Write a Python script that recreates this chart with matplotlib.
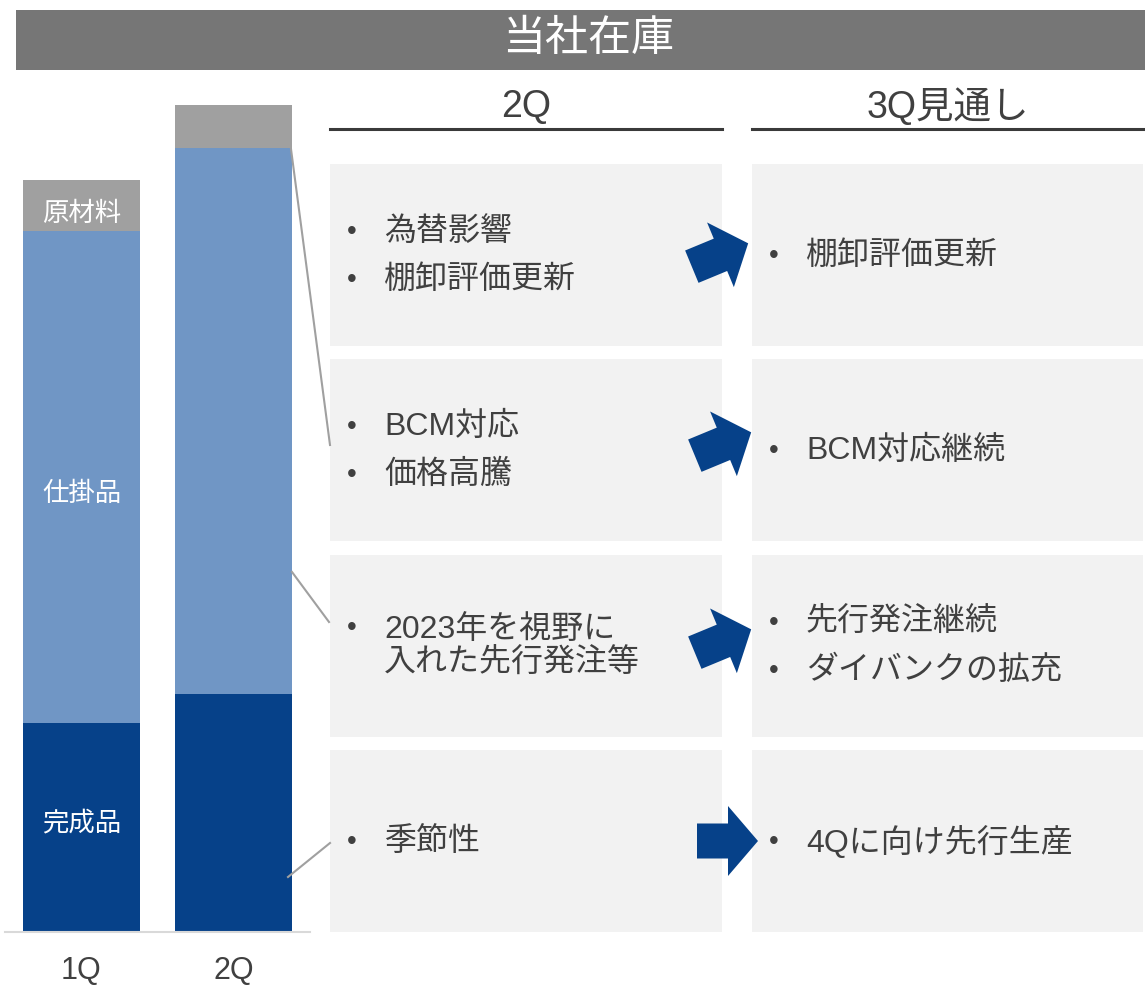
import numpy as np
import matplotlib.pyplot as plt
from matplotlib.patches import Rectangle, Polygon

plt.rcParams['font.family'] = ['Liberation Sans', 'Noto Sans CJK JP', 'DejaVu Sans']

# inventory composition (bar heights, arbitrary units)
quarters = ["1Q", "2Q"]
finished = [20.9, 23.8]   # 完成品
wip = [49.2, 54.6]        # 仕掛品
raw = [5.1, 4.3]          # 原材料
seg_labels = ["完成品", "仕掛品", "原材料"]

title = "当社在庫"
col_headers = ["2Q", "3Q見通し"]
left_items = [["為替影響", "棚卸評価更新"],
              ["BCM対応", "価格高騰"],
              ["2023年を視野に\n入れた先行発注等"],
              ["季節性"]]
right_items = [["棚卸評価更新"],
               ["BCM対応継続"],
               ["先行発注継続", "ダイバンクの拡充"],
               ["4Qに向け先行生産"]]
arrow_angles = [22.5, 22.5, 22.5, 0]

C_FIN = "#064189"
C_WIP = "#7096c5"
C_RAW = "#a0a0a0"
C_TXT = "#404040"
C_BOX = "#f2f2f2"

W, H = 1145, 985
fig = plt.figure(figsize=(W / 100, H / 100), dpi=100)

# --- stacked bars ---
ax = fig.add_axes([5 / W, (H - 932) / H, 305 / W, (932 - 80) / H])
x = np.arange(len(quarters))
bw = 0.77
ax.bar(x, finished, bw, color=C_FIN)
ax.bar(x, wip, bw, bottom=finished, color=C_WIP)
ax.bar(x, raw, bw, bottom=np.add(finished, wip), color=C_RAW)
ax.set_xlim(-0.503, 1.503)
ax.set_ylim(0, 85.2)
for s in ["top", "right", "left"]:
    ax.spines[s].set_visible(False)
ax.spines["bottom"].set_color("#d9d9d9")
ax.spines["bottom"].set_linewidth(1.5)
ax.set_yticks([])
ax.set_xticks(x)
ax.set_xticklabels(quarters, fontsize=22, color=C_TXT)
ax.tick_params(axis="x", length=0, pad=17)

# segment labels on the 1Q bar
ax.text(0, finished[0] - 10.0, seg_labels[0], ha="center", va="center", fontsize=19, color="white")
ax.text(0, finished[0] + wip[0] / 2 - 1.7, seg_labels[1], ha="center", va="center", fontsize=19, color="white")
ax.text(0, finished[0] + wip[0] + raw[0] / 2 - 0.8, seg_labels[2], ha="center", va="center", fontsize=19, color="white")

# --- overlay in pixel coordinates ---
lay = fig.add_axes([0, 0, 1, 1])
lay.set_xlim(0, W)
lay.set_ylim(H, 0)
lay.axis("off")
lay.patch.set_visible(False)

# title bar
lay.add_patch(Rectangle((16, 10), W - 16, 60, color="#767676", lw=0))
lay.text(588, 40, title, ha="center", va="center", fontsize=31, color="white")

col_x = [330, 752]
col_w = [392, 391]
for cx, cw, hd in zip(col_x, col_w, col_headers):
    lay.text(cx + cw / 2, 107, hd, ha="center", va="center", fontsize=27, color=C_TXT)
    lay.plot([cx, cx + cw], [129, 129], color="#3a3a3a", lw=2.2)

row_top = [164, 359, 555, 750]
row_h = 182
for i, top in enumerate(row_top):
    for cx, cw in zip(col_x, col_w):
        lay.add_patch(Rectangle((cx, top), cw, row_h, color=C_BOX, lw=0))
    yc = top + row_h / 2 + 1
    for cx, items in zip(col_x, [left_items[i], right_items[i]]):
        n = len(items)
        for k, item in enumerate(items):
            yy = yc + (k - (n - 1) / 2) * 48
            nl = item.count("\n") + 1
            y_first = yy - (nl - 1) * 18.5
            lay.text(cx + 17, y_first, "•", ha="left", va="center", fontsize=20, color=C_TXT)
            lay.text(cx + 54, yy, item, ha="left", va="center", fontsize=23, color=C_TXT,
                     linespacing=1.17)

    # block arrow between columns
    ang = np.deg2rad(arrow_angles[i])
    shape = np.array([[-30.5, -17.5], [0.5, -17.5], [0.5, -35], [30.5, 0],
                      [0.5, 35], [0.5, 17.5], [-30.5, 17.5]])
    rot = np.array([[np.cos(ang), np.sin(ang)], [-np.sin(ang), np.cos(ang)]])
    pts = shape @ rot.T
    centers = [(720, 255), (723, 444), (723, 641), (727.5, 841)]
    pts = pts + np.array(centers[i])
    lay.add_patch(Polygon(pts, closed=True, color=C_FIN, lw=0))

# connector lines from the 2Q bar to the boxes
conn = [((291, 149), (330, 445)), ((292, 572), (329, 622)), ((288, 877), (330, 843))]
for (x0, y0), (x1, y1) in conn:
    lay.plot([x0, x1], [y0, y1], color="#a0a0a0", lw=1.5)

fig.savefig("out.png", dpi=100, facecolor="white")
